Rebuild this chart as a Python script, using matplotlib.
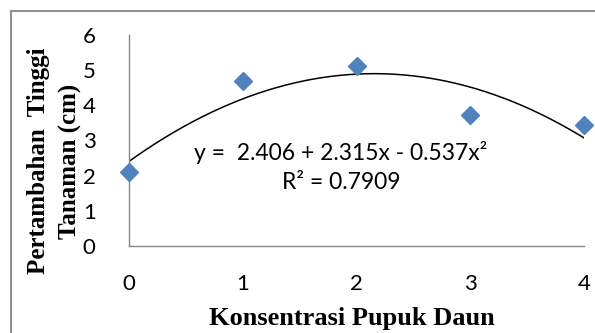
import numpy as np
import matplotlib
matplotlib.use("Agg")
import matplotlib.pyplot as plt
from matplotlib.lines import Line2D

# Data
konsentrasi = [0, 1, 2, 3, 4]
pertambahan = [2.11, 4.69, 5.11, 3.72, 3.44]
coef = [2.406, 2.315, -0.537]   # y = a + b x + c x^2
r2 = 0.7909
y_ticks = [0, 1, 2, 3, 4, 5, 6]
x_ticks = [0, 1, 2, 3, 4]

W, H = 595, 333
fig = plt.figure(figsize=(W / 100, H / 100), dpi=100)
ax = fig.add_axes([129 / W, 1 - 246 / H, (584 - 129) / W, (246 - 35) / H])

xs = np.linspace(0, 4, 200)
ys = coef[0] + coef[1] * xs + coef[2] * xs ** 2
ax.plot(xs, ys, color="black", lw=1.1, zorder=2)
ax.plot(konsentrasi, pertambahan, linestyle="none", marker="D", ms=9.5,
        color="#4F81BD", markeredgecolor="#4F81BD", zorder=3, clip_on=False)

ax.set_xlim(0, 4)
ax.set_ylim(0, 6)
ax.set_xticks(x_ticks)
ax.set_yticks(y_ticks)
for s in ["top", "right"]:
    ax.spines[s].set_visible(False)
for s in ["left", "bottom"]:
    ax.spines[s].set_color("#868686")
    ax.spines[s].set_linewidth(1.0)
ax.tick_params(length=0, labelsize=16)
ax.tick_params(axis="y", pad=24)
ax.tick_params(axis="x", pad=20)
for lab in ax.get_xticklabels() + ax.get_yticklabels():
    lab.set_fontfamily("Lato")

ax.text(0.466, 0.445,
        "y =  %.3f + %.3fx - %.3fx²" % (coef[0], coef[1], -coef[2]),
        transform=ax.transAxes, ha="center", va="center",
        fontsize=16.5, family="Lato")
ax.text(0.466, 0.30, "R² = %.4f" % r2,
        transform=ax.transAxes, ha="center", va="center",
        fontsize=16.5, family="Lato")

fig.text(352 / W, 1 - 318 / H, "Konsentrasi Pupuk Daun", ha="center", va="center",
         fontsize=19, fontweight="bold", family="Liberation Serif")
fig.text(39 / W, 1 - 161 / H, "Pertambahan  Tinggi", ha="center", va="center",
         rotation=90, fontsize=18, fontweight="bold", family="Liberation Serif")
fig.text(70 / W, 1 - 161 / H, "Tanaman (cm)", ha="center", va="center",
         rotation=90, fontsize=18, fontweight="bold", family="Liberation Serif")

# chart area border (top and left visible)
fig.add_artist(Line2D([11 / W, 11 / W], [0, 1 - 10.5 / H], transform=fig.transFigure,
                      color="#868686", lw=1.3))
fig.add_artist(Line2D([11 / W, 1], [1 - 10.5 / H, 1 - 10.5 / H], transform=fig.transFigure,
                      color="#868686", lw=1.3))

fig.savefig("out.png", dpi=100)
